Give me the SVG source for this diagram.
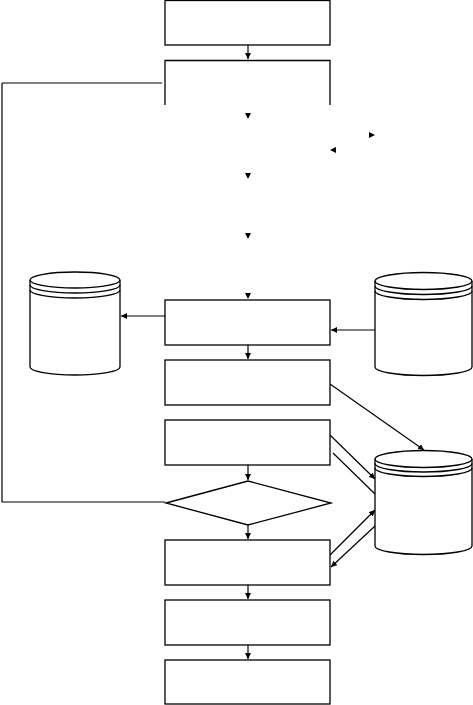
<svg xmlns="http://www.w3.org/2000/svg" width="473" height="705" viewBox="0 0 473 705">
<style>
.s{fill:#fff;stroke:#000;stroke-width:1.3}
.n{fill:none;stroke:#000;stroke-width:1.3}
.c{fill:none;stroke:#000;stroke-width:1.2}
.h{fill:#000;stroke:none}
</style>
<defs>
<marker id="a" viewBox="0 0 10 10" refX="10" refY="5" markerWidth="6" markerHeight="6" markerUnits="userSpaceOnUse" orient="auto"><path d="M0,0L10,5L0,10Z" fill="#000"/></marker>
</defs>
<rect width="473" height="705" fill="#fff"/>
<g id="connectors">
<path class="c" d="M248,45V59" marker-end="url(#a)"/>
<path class="c" d="M2,83H162M2,83V502H165"/>
<path class="h" d="M245,113L251,113L248,119Z"/>
<path class="h" d="M245,173L251,173L248,179Z"/>
<path class="h" d="M245,233L251,233L248,239Z"/>
<path class="h" d="M245,293L251,293L248,299Z"/>
<path class="h" d="M369,132L369,138L375,135Z"/>
<path class="h" d="M336,147L336,153L330,150Z"/>
<path class="c" d="M165,316H121" marker-end="url(#a)"/>
<path class="c" d="M375,330H331" marker-end="url(#a)"/>
<path class="c" d="M248,345V359" marker-end="url(#a)"/>
<path class="c" d="M330,384L424,450" marker-end="url(#a)"/>
<path class="c" d="M330,435L375,479" marker-end="url(#a)"/>
<path class="c" d="M333,453L375,494"/>
<path class="c" d="M248,465V480" marker-end="url(#a)"/>
<path class="c" d="M248,525V539" marker-end="url(#a)"/>
<path class="c" d="M330,555L375,510" marker-end="url(#a)"/>
<path class="c" d="M375,526L331,567" marker-end="url(#a)"/>
<path class="c" d="M248,585V599" marker-end="url(#a)"/>
<path class="c" d="M248,645V659" marker-end="url(#a)"/>
</g>
<g id="box1"><rect class="s" x="165" y="0.5" width="165" height="44.5"/></g>
<g id="box2"><path class="n" d="M165,105V60.5H330V105"/></g>
<g id="cyl-left">
<path class="s" d="M30,280A45,8 0 0 1 120,280V367A45,8 0 0 1 30,367Z"/>
<path class="n" d="M30,280A45,8 0 0 0 120,280M30,285A45,8 0 0 0 120,285M30,290A45,8 0 0 0 120,290"/>
</g>
<g id="cyl-right">
<path class="s" d="M375,281A48.5,8.5 0 0 1 472,281V367A48.5,8.5 0 0 1 375,367Z"/>
<path class="n" d="M375,281A48.5,8.5 0 0 0 472,281M375,286A48.5,8.5 0 0 0 472,286M375,291A48.5,8.5 0 0 0 472,291"/>
</g>
<g id="box3"><rect class="s" x="165" y="300" width="165" height="45"/></g>
<g id="box4"><rect class="s" x="165" y="360" width="165" height="45"/></g>
<g id="box5"><rect class="s" x="165" y="420" width="165" height="45"/></g>
<g id="cyl-bottom">
<path class="s" d="M375,459A48.5,8.5 0 0 1 472,459V546A48.5,8.5 0 0 1 375,546Z"/>
<path class="n" d="M375,459A48.5,8.5 0 0 0 472,459M375,463.5A48.5,8.5 0 0 0 472,463.5M375,468A48.5,8.5 0 0 0 472,468"/>
</g>
<g id="decision"><path class="s" d="M166,503L248,481L331,503L248,525Z"/></g>
<g id="box6"><rect class="s" x="165" y="540" width="165" height="45"/></g>
<g id="box7"><rect class="s" x="165" y="600" width="165" height="45"/></g>
<g id="box8"><rect class="s" x="165" y="660" width="165" height="44"/></g>
</svg>
